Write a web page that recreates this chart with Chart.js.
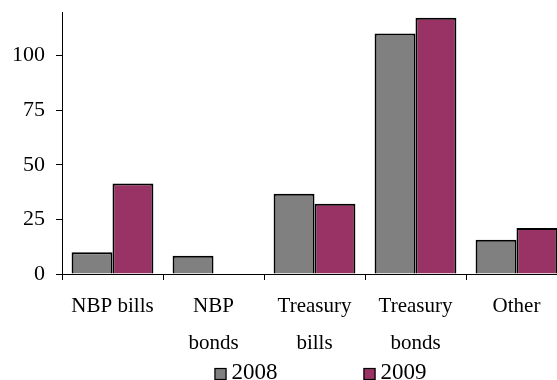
<!DOCTYPE html>
<html lang="en">
<head>
  <meta charset="UTF-8">
  <title>NBP and Treasury securities</title>
  <script src="https://cdn.jsdelivr.net/npm/chart.js"></script>
  <style>
    html, body {
      margin: 0;
      padding: 0;
      background: #fff;
      overflow: hidden;
    }
    #grafico {
      display: block;
    }
  </style>
</head>
<body>

  <canvas id="grafico" width="567" height="380"></canvas>

  <script>
    const categorias = [["NBP bills"], ["NBP", "bonds"], ["Treasury", "bills"], ["Treasury", "bonds"], ["Other"]];
    const valores2008 = [10, 8.4, 36.8, 110.2, 15.7];
    const valores2009 = [41.5, 0, 32.2, 117.4, 21.1];
    const ticksY = [0, 25, 50, 75, 100];

    const fonte = "'Liberation Serif', 'Times New Roman', serif";

    // legenda desenhada a mao, para ter o espaco largo entre os itens
    const legendaPlugin = {
      id: "legendaManual",
      afterDraw(chart) {
        const ctx = chart.ctx;
        const area = chart.chartArea;
        const box = 12;
        const gapTexto = 5;
        const gapItens = 86;
        ctx.save();
        ctx.font = "23px " + fonte;
        ctx.textBaseline = "middle";
        const itens = chart.data.datasets.map(ds => ({
          label: ds.label,
          cor: ds.backgroundColor,
          w: box + gapTexto + ctx.measureText(ds.label).width
        }));
        const total = itens.reduce((s, it) => s + it.w, 0) + gapItens * (itens.length - 1);
        let x = (area.left + area.right) / 2 + 6 - total / 2;
        const y = 373;
        itens.forEach(it => {
          ctx.fillStyle = it.cor;
          ctx.fillRect(x, y - 5, box, box);
          ctx.strokeStyle = "#000";
          ctx.lineWidth = 1.2;
          ctx.strokeRect(x + 0.5, y - 4.5, box - 1, box - 1);
          ctx.fillStyle = "#000";
          ctx.fillText(it.label, x + box + gapTexto, y);
          x += it.w + gapItens;
        });
        ctx.restore();
      }
    };

    const ctx = document.getElementById("grafico").getContext("2d");
    new Chart(ctx, {
      type: "bar",
      data: {
        labels: categorias,
        datasets: [
          {
            label: "2008",
            data: valores2008,
            backgroundColor: "#808080",
            borderColor: "#000",
            borderWidth: 2
          },
          {
            label: "2009",
            data: valores2009,
            backgroundColor: "#993366",
            borderColor: "#000",
            borderWidth: 2
          }
        ]
      },
      options: {
        responsive: false,
        animation: false,
        layout: { padding: { top: 12, left: 0, right: 0, bottom: 0 } },
        datasets: {
          bar: { categoryPercentage: 0.81, barPercentage: 1.0 }
        },
        plugins: {
          legend: { display: false },
          tooltip: { enabled: false }
        },
        scales: {
          x: {
            grid: {
              display: true,
              drawOnChartArea: false,
              color: "#000",
              tickLength: 6,
              offset: true
            },
            border: { display: true, color: "#000", width: 1 },
            ticks: {
              color: "#000",
              padding: 8,
              maxRotation: 0,
              autoSkip: false,
              font: { family: fonte, size: 21, lineHeight: 1.76 }
            },
            afterFit: function(scale) {
              scale.height = 106;
              scale.paddingLeft = 0;
              scale.paddingRight = 0;
            }
          },
          y: {
            min: 0,
            max: 120,
            grid: {
              display: true,
              drawOnChartArea: false,
              color: "#000",
              tickLength: 6
            },
            border: { display: true, color: "#000", width: 1 },
            ticks: {
              stepSize: 25,
              color: "#000",
              padding: 11,
              font: { family: fonte, size: 22 }
            },
            afterBuildTicks: function(scale) {
              scale.ticks = ticksY.map(v => ({ value: v }));
            },
            afterFit: function(scale) {
              scale.width = 62;
              scale.paddingTop = 0;
              scale.paddingBottom = 0;
            }
          }
        }
      },
      plugins: [legendaPlugin]
    });
  </script>
</body>
</html>
